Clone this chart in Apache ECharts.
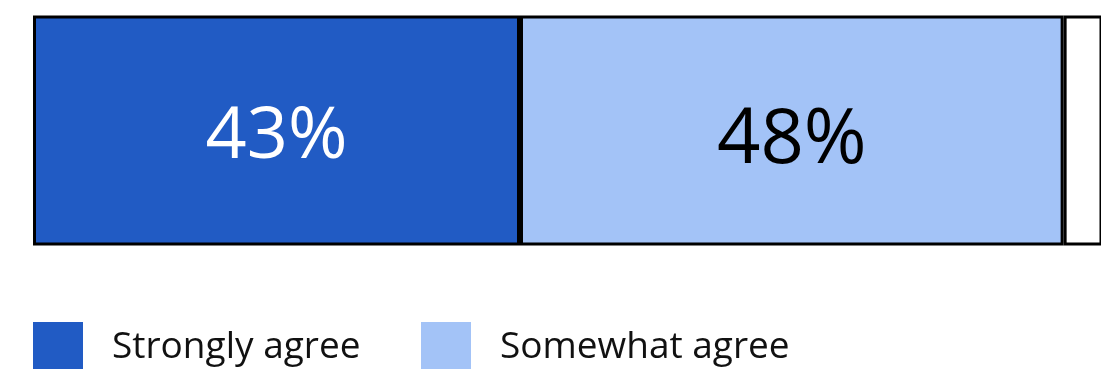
<!DOCTYPE html>
<html>
<head>
<meta charset="utf-8">
<script src="https://cdn.jsdelivr.net/npm/echarts@6/dist/echarts.min.js"></script>
<style>
  html, body { margin: 0; padding: 0; background: #ffffff; }
  #chart { width: 1101px; height: 369px; }
</style>
</head>
<body>
<div id="chart"></div>
<script>
// Share of respondents by level of agreement (one stacked bar)
const categories = ['Respondents'];
const seriesNames = ['Strongly agree', 'Somewhat agree', 'Other'];
const stronglyAgree = [43];
const somewhatAgree = [48];
const otherResponses = [9];

const colors = {
  strong: '#215BC4',
  somewhat: '#A3C3F7',
  other: '#FFFFFF',
  border: '#000000'
};
const fontFamily = '"Open Sans", Lato, sans-serif';

const chart = echarts.init(document.getElementById('chart'), null, { renderer: 'canvas' });

function segment(name, data, fill, label) {
  return {
    name: name,
    type: 'bar',
    stack: 'total',
    data: data,
    barWidth: '100%',
    clip: true,
    itemStyle: { color: fill, borderColor: colors.border, borderWidth: 3 },
    label: Object.assign({
      show: !!label,
      position: 'inside',
      formatter: '{c}%',
      fontFamily: fontFamily,
      fontWeight: 'normal'
    }, label || {}),
    emphasis: { disabled: true }
  };
}

const legendText = { fontSize: 37, color: '#111111', fontFamily: fontFamily, padding: [12, 0, 0, 24] };

function legendItem(name, left) {
  return {
    data: [name], left: left, top: 322, padding: 0, icon: 'rect',
    itemWidth: 50, itemHeight: 50, itemStyle: { borderWidth: 0 },
    textStyle: legendText, selectedMode: false
  };
}

chart.setOption({
  animation: false,
  // the bar runs past the right edge; the axis max sets the visible share
  grid: { left: 33, right: 0, top: 15.5, height: 230, containLabel: false },
  xAxis: { type: 'value', min: 0, max: 94.3, show: false },
  yAxis: { type: 'category', data: categories, show: false },
  legend: [legendItem(seriesNames[0], 33), legendItem(seriesNames[1], 421)],
  series: [
    segment(seriesNames[0], stronglyAgree, colors.strong,
      { color: '#FFFFFF', fontSize: 72, offset: [0, 7] }),
    segment(seriesNames[1], somewhatAgree, colors.somewhat,
      { color: '#000000', fontSize: 76, offset: [0, 11] }),
    segment(seriesNames[2], otherResponses, colors.other, null)
  ]
});
</script>
</body>
</html>
